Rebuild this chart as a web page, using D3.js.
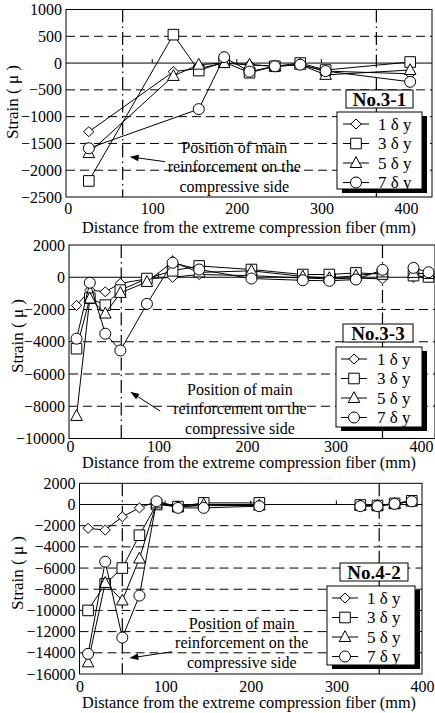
<!DOCTYPE html>
<html><head><meta charset="utf-8">
<script src="https://cdn.jsdelivr.net/npm/d3@7"></script>
<style>
body{margin:0;background:#fff}
svg{display:block}
</style>
</head><body>
<svg id="c" width="435" height="713" style="font-family:'Liberation Serif','Times New Roman',serif"></svg>
<script>
// ---------- shared ----------
const xTickValues = [0, 100, 200, 300, 400];
const seriesLabels = ["1 δ y", "3 δ y", "5 δ y", "7 δ y"];
const seriesSymbols = ["diamond", "square", "triangle", "circle"];
const xTitle = "Distance from the extreme compression fiber (mm)";
const yTitle = "Strain ( μ )";
const noteLines = ["Position of main", "reinforcement on the", "compressive side"];

// ---------- panel 1 : No.3-1 ----------
const p1Name = "No.3-1";
const p1X  = [25, 125, 155, 185, 215, 245, 275, 305, 405];
const p1S1 = [-1280, -160, -100, 0, -30, -60, -30, -150, -200];
const p1S3 = [-2200, 530, -140, 20, -180, -60, 0, -130, 20];
const p1S5 = [-1680, -240, -30, 0, -30, -60, -30, -220, -130];
const p1S7 = [-1590, null, -860, 110, -160, -60, -30, -150, -350];
const p1YTicks = [1000, 500, 0, -500, -1000, -1500, -2000, -2500];
const p1Reinf = [65, 365];

// ---------- panel 2 : No.3-3 ----------
const p2Name = "No.3-3";
const p2X  = [7.5, 22.5, 40, 57, 87, 116, 146, 205, 263, 293, 323, 353, 388, 405];
const p2S1 = [-1750, -800, -900, -380, -100, 0, 170, 100, -50, -100, -50, -100, 0, 0];
const p2S3 = [-4430, -1300, -1730, -800, -80, 400, 700, 480, 170, 170, 270, 200, 100, 20];
const p2S5 = [-8600, -1320, -2250, -970, -290, 950, 300, 400, 50, -50, 100, 300, 270, 200];
const p2S7 = [-3810, -340, -3500, -4540, -1650, 900, 480, -80, -190, -220, -140, 460, 580, 310];
const p2YTicks = [2000, 0, -2000, -4000, -6000, -8000, -10000];
const p2Reinf = [58, 353];
const p2GapAfter = 353;

// ---------- panel 3 : No.4-2 ----------
const p3Name = "No.4-2";
const p3X  = [10, 30, 50, 70, 90, 115, 145, 210, 328, 348, 368, 388];
const p3S1 = [-2250, -2410, -1160, -320, 300, -200, -100, -100, -100, -100, 60, 300];
const p3S3 = [-10000, -7500, -6000, -2900, 0, -200, 150, 150, -50, -100, 100, 350];
const p3S5 = [-14900, -7400, -9060, -5100, 100, -250, 0, -100, -100, -100, 50, 300];
const p3S7 = [-14100, -5400, -12560, -8600, 300, -320, -320, -160, -160, -160, 60, 300];
const p3YTicks = [2000, 0, -2000, -4000, -6000, -8000, -10000, -12000, -14000, -16000];
const p3Reinf = [50, 350];
const p3GapAfter = 210;

// ---------- layout (positions only) ----------
const panels = [
  { name: p1Name, xs: p1X, series: [p1S1, p1S3, p1S5, p1S7], yTicks: p1YTicks, reinf: p1Reinf, gapAfter: null,
    L: 66, R: 432, T: 9.5, B: 197, xDom: [-2, 430.8], xPad: 6, xTitleY: 233, yTitleX: 12, yTitleY: 102,
    note: [197, -1567], arrowTip: [7, -1750], arrowTail: [115, -1840],
    nameBox: [346, 90, 67, 18], legBox: [337, 112, 85, 77], legX: 6, legTextX: 41 },
  { name: p2Name, xs: p2X, series: [p2S1, p2S3, p2S5, p2S7], yTicks: p2YTicks, reinf: p2Reinf, gapAfter: p2GapAfter,
    L: 69, R: 435, T: 245, B: 438.5, xDom: [-1, 412.3], xPad: 2, xTitleY: 468, yTitleX: 17, yTitleY: 336,
    note: [192, -6953], arrowTip: [9, -7100], arrowTail: [102, -8300],
    nameBox: [343, 324, 70, 18], legBox: [336, 347, 86, 80], legX: 5, legTextX: 41 },
  { name: p3Name, xs: p3X, series: [p3S1, p3S3, p3S5, p3S7], yTicks: p3YTicks, reinf: p3Reinf, gapAfter: p3GapAfter,
    L: 79.5, R: 422, T: 483.3, B: 674, xDom: [0, 400], xPad: 6.5, xTitleY: 708, yTitleX: 17, yTitleY: 573,
    note: [189.5, -11218], arrowTip: [7, -14500], arrowTail: [108, -13900],
    nameBox: [340, 563, 68, 18], legBox: [327, 586, 88, 79], legX: 5, legTextX: 40 }
];

const FONT = "'Liberation Serif','Times New Roman',serif";
const svg = d3.select("#c");

function symbolPath(t) {
  if (t === "diamond") return "M0,-5L5.2,0L0,5L-5.2,0Z";
  if (t === "square") return "M-5.3,-5.3H5.3V5.3H-5.3Z";
  if (t === "triangle") return "M0,-6.3L5.8,4.5H-5.8Z";
  return d3.symbol(d3.symbolCircle, Math.PI * 5.5 * 5.5)();
}

panels.forEach(p => {
  const g = svg.append("g");
  const x = d3.scaleLinear().domain(p.xDom).range([p.L, p.R]);
  const y = d3.scaleLinear().domain([p.yTicks[p.yTicks.length - 1], p.yTicks[0]]).range([p.B, p.T]);

  // dashed gridlines
  g.append("g").selectAll("line")
    .data(p.yTicks.filter(v => v !== 0 && v !== p.yTicks[0] && v !== p.yTicks[p.yTicks.length - 1]))
    .join("line")
    .attr("x1", p.L).attr("x2", p.R)
    .attr("y1", d => y(d)).attr("y2", d => y(d))
    .attr("stroke", "#000").attr("stroke-width", 1).attr("stroke-dasharray", "9,5");

  // reinforcement dash-dot lines
  g.append("g").selectAll("line").data(p.reinf).join("line")
    .attr("x1", d => x(d)).attr("x2", d => x(d))
    .attr("y1", p.T).attr("y2", p.B)
    .attr("stroke", "#000").attr("stroke-width", 1.2).attr("stroke-dasharray", "13,4,1.5,4");

  // zero line
  g.append("line").attr("x1", p.L).attr("x2", p.R).attr("y1", y(0)).attr("y2", y(0))
    .attr("stroke", "#000").attr("stroke-width", 1);
  g.append("g").selectAll("line").data(xTickValues.filter(v => v > 0 && x(v) < p.R)).join("line")
    .attr("x1", d => x(d)).attr("x2", d => x(d)).attr("y1", y(0)).attr("y2", y(0) - 4)
    .attr("stroke", "#000");

  // frame
  g.append("rect").attr("x", p.L).attr("y", p.T).attr("width", p.R - p.L).attr("height", p.B - p.T)
    .attr("fill", "none").attr("stroke", "#000").attr("stroke-width", 1);

  // axes
  const xa = g.append("g").attr("transform", `translate(0,${p.B})`)
    .call(d3.axisBottom(x).tickValues(xTickValues).tickSize(0).tickPadding(p.xPad).tickFormat(d3.format("d")));
  xa.select(".domain").remove();
  const ya = g.append("g").attr("transform", `translate(${p.L},0)`)
    .call(d3.axisLeft(y).tickValues(p.yTicks).tickSize(0).tickPadding(4).tickFormat(d3.format("d")));
  ya.select(".domain").remove();
  [xa, ya].forEach(a => {
    a.attr("font-family", FONT).attr("font-size", 16);
    a.selectAll("text").style("font-family", FONT).attr("font-size", 16).attr("fill", "#000");
  });
  xa.selectAll(".tick text").filter(d => x(d) + 12 > 435).attr("dx", -3);

  // titles
  g.append("text").attr("x", 249).attr("y", p.xTitleY)
    .attr("text-anchor", "middle").attr("font-size", 16.5).style("font-family", FONT)
    .attr("textLength", 334).attr("lengthAdjust", "spacingAndGlyphs")
    .text(xTitle);
  g.append("text").attr("transform", `translate(${p.yTitleX},${p.yTitleY}) rotate(-90)`)
    .attr("text-anchor", "middle").attr("dy", "0.35em").attr("font-size", 17).style("font-family", FONT).text(yTitle);

  // series
  p.series.forEach((vals, si) => {
    const pts = p.xs.map((xv, i) => ({ x: xv, v: vals[i] })).filter(d => d.v !== null);
    const segs = p.gapAfter == null ? [pts] :
      [pts.filter(d => d.x <= p.gapAfter), pts.filter(d => d.x > p.gapAfter)];
    const line = d3.line().x(d => x(d.x)).y(d => y(d.v));
    segs.forEach(s => g.append("path").attr("d", line(s)).attr("fill", "none")
      .attr("stroke", "#000").attr("stroke-width", 1));
    g.append("g").selectAll("path").data(pts).join("path")
      .attr("transform", d => `translate(${x(d.x)},${y(d.v)})`)
      .attr("d", symbolPath(seriesSymbols[si]))
      .attr("fill", "#fff").attr("stroke", "#000").attr("stroke-width", 1);
  });

  // annotation
  const nx = x(p.note[0]), ny = y(p.note[1]);
  noteLines.forEach((t, i) => g.append("text").attr("x", nx).attr("y", ny + i * 19.5)
    .attr("dy", "0.35em").attr("text-anchor", "middle").attr("font-size", 16).style("font-family", FONT).text(t));
  const tip = [x(p.reinf[0]) + p.arrowTip[0], y(p.arrowTip[1])];
  const tail = [x(p.arrowTail[0]), y(p.arrowTail[1])];
  const ang = Math.atan2(tip[1] - tail[1], tip[0] - tail[0]);
  g.append("line").attr("x1", tail[0]).attr("y1", tail[1])
    .attr("x2", tip[0] - 6 * Math.cos(ang)).attr("y2", tip[1] - 6 * Math.sin(ang))
    .attr("stroke", "#000").attr("stroke-width", 1);
  const ah = 9, aw = 3.2;
  const bx = tip[0] - ah * Math.cos(ang), by = tip[1] - ah * Math.sin(ang);
  g.append("path").attr("d",
    `M${tip[0]},${tip[1]}L${bx - aw * Math.sin(ang)},${by + aw * Math.cos(ang)}L${bx + aw * Math.sin(ang)},${by - aw * Math.cos(ang)}Z`)
    .attr("fill", "#000");

  // name box
  const nb = p.nameBox;
  g.append("rect").attr("x", nb[0]).attr("y", nb[1]).attr("width", nb[2]).attr("height", nb[3])
    .attr("fill", "#fff").attr("stroke", "#000").attr("stroke-width", 1);
  g.append("text").attr("x", nb[0] + nb[2] / 2).attr("y", nb[1] + nb[3] / 2).attr("dy", "0.36em")
    .attr("text-anchor", "middle").attr("font-size", 19).attr("font-weight", "bold").style("font-family", FONT).text(p.name);

  // legend
  const lb = p.legBox;
  g.append("rect").attr("x", lb[0] + 5).attr("y", lb[1] + 4).attr("width", lb[2]).attr("height", lb[3]).attr("fill", "#000");
  g.append("rect").attr("x", lb[0]).attr("y", lb[1]).attr("width", lb[2]).attr("height", lb[3])
    .attr("fill", "#fff").attr("stroke", "#000").attr("stroke-width", 1);
  seriesLabels.forEach((lab, i) => {
    const yy = lb[1] + 12 + i * 19.5;
    const x1 = lb[0] + p.legX, x2 = x1 + 26;
    g.append("line").attr("x1", x1).attr("x2", x2).attr("y1", yy).attr("y2", yy).attr("stroke", "#000");
    g.append("path").attr("transform", `translate(${(x1 + x2) / 2},${yy})`).attr("d", symbolPath(seriesSymbols[i]))
      .attr("fill", "#fff").attr("stroke", "#000");
    g.append("text").attr("x", lb[0] + p.legTextX).attr("y", yy).attr("dy", "0.35em")
      .attr("font-size", 17).style("font-family", FONT).text(lab);
  });
});
</script>
</body></html>
